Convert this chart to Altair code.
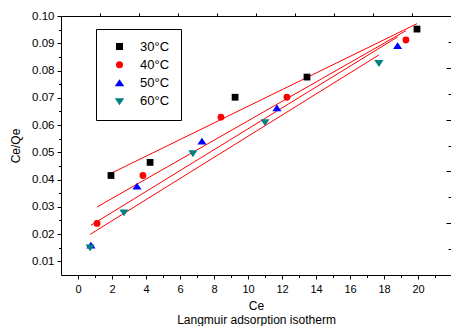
import altair as alt
import pandas as pd

temps = ["30°C", "40°C", "50°C", "60°C"]
ce_30 = [1.94, 4.24, 9.24, 13.47, 19.94]
q_30 = [0.0415, 0.0463, 0.0702, 0.0776, 0.0952]
ce_40 = [1.12, 3.82, 8.41, 12.29, 19.29]
q_40 = [0.0239, 0.0415, 0.0629, 0.0702, 0.0912]
ce_50 = [0.76, 3.47, 7.29, 11.70, 18.80]
q_50 = [0.0158, 0.0375, 0.0540, 0.0662, 0.0890]
ce_60 = [0.71, 2.70, 6.76, 11.00, 17.70]
q_60 = [0.0151, 0.0279, 0.0496, 0.0610, 0.0827]

shapes = [
    "square",
    "circle",
    "M0,-1.1L1.35,0.9L-1.35,0.9Z",
    "M0,1.1L1.35,-0.9L-1.35,-0.9Z",
]
colors = ["#000000", "#ff0000", "#0000ff", "#008080"]

x_tick_values = list(range(0, 23))
y_tick_values = [round(0.005 * k, 3) for k in range(2, 21)]
frame_ticks = list(range(1, 10))

rows = []
for t, xs, ys in zip(temps, [ce_30, ce_40, ce_50, ce_60], [q_30, q_40, q_50, q_60]):
    for a, b in zip(xs, ys):
        rows.append({"T": t, "Ce": a, "CeQe": b})
df = pd.DataFrame(rows)

FONT = "Liberation Sans"
W, H = 390, 259

x_scale = alt.Scale(domain=[-1, 21.94], nice=False, zero=False)
y_scale = alt.Scale(domain=[0.005, 0.10], nice=False, zero=False)

x_axis = alt.Axis(
    values=x_tick_values,
    labelExpr="datum.value % 2 === 0 ? datum.label : ''",
    tickSize={"condition": {"test": "datum.value % 2 === 0", "value": 4}, "value": 2.5},
    title=["Ce", "Langmuir adsorption isotherm"],
    titleFont=FONT, titleFontSize=12, titleFontWeight="normal", titleColor="black",
    titlePadding=6, titleLineHeight=14,
    labelFont=FONT, labelFontSize=11, labelColor="black", labelPadding=4,
    labelFlush=False, labelOverlap=False, labelBound=False,
    domainColor="black", tickColor="black", grid=False,
)
y_axis = alt.Axis(
    values=y_tick_values,
    labelExpr="round(datum.value * 1000) % 10 === 0 ? format(datum.value, '.2f') : ''",
    tickSize={"condition": {"test": "round(datum.value * 1000) % 10 === 0", "value": 4}, "value": 2.5},
    title="Ce/Qe",
    titleFont=FONT, titleFontSize=12, titleFontWeight="normal", titleColor="black",
    titlePadding=9,
    labelFont=FONT, labelFontSize=11.5, labelColor="black", labelPadding=3,
    labelFlush=False, labelOverlap=False, labelBound=False,
    domainColor="black", tickColor="black", grid=False,
)

leg = alt.Legend(
    title=None, orient="none", legendX=35, legendY=13,
    strokeColor="black", fillColor="white", padding=11,
    symbolOffset=6, labelOffset=14, rowPadding=4.3,
    labelFont=FONT, labelFontSize=13, labelColor="black",
    symbolSize=50, symbolStrokeWidth=0,
)

base = alt.Chart(df)

lines = base.transform_regression(
    "Ce", "CeQe", groupby=["T"]
).mark_line(color="#ff0000", strokeWidth=1).encode(
    x=alt.X("Ce:Q", scale=x_scale, axis=x_axis),
    y=alt.Y("CeQe:Q", scale=y_scale, axis=y_axis),
    detail="T:N",
)

points = base.mark_point(filled=True, size=46, opacity=1, strokeWidth=0).encode(
    x=alt.X("Ce:Q", scale=x_scale, axis=x_axis),
    y=alt.Y("CeQe:Q", scale=y_scale, axis=y_axis),
    color=alt.Color("T:N", scale=alt.Scale(domain=temps, range=colors), legend=leg),
    shape=alt.Shape("T:N", scale=alt.Scale(domain=temps, range=shapes), legend=leg),
)

frame_df = pd.DataFrame({"f": [0, 10]})
frame = alt.Chart(frame_df).mark_point(opacity=0).encode(
    x=alt.X("f:Q", scale=alt.Scale(domain=[0, 10], nice=False, zero=False),
            axis=alt.Axis(orient="top", values=frame_ticks, labels=False, title="",
                          tickSize=3, tickColor="black", domainColor="black", grid=False)),
    y=alt.Y("f:Q", scale=alt.Scale(domain=[0, 10], nice=False, zero=False),
            axis=alt.Axis(orient="left", offset=-W, values=frame_ticks, labels=False, title="",
                          tickSize={"condition": {"test": "datum.value % 2 === 0", "value": 5}, "value": 3},
                          tickColor="black", domain=False, grid=False)),
)

chart = alt.layer(alt.layer(lines, points), frame).resolve_scale(
    x="independent", y="independent"
).properties(
    width=W, height=H,
    padding={"left": 61, "top": 16, "right": 0, "bottom": 51},
    autosize=alt.AutoSizeParams(type="none"),
    background="white",
).configure_view(strokeWidth=0)

chart.save("out.html", embed_options={"renderer": "svg", "actions": False})
